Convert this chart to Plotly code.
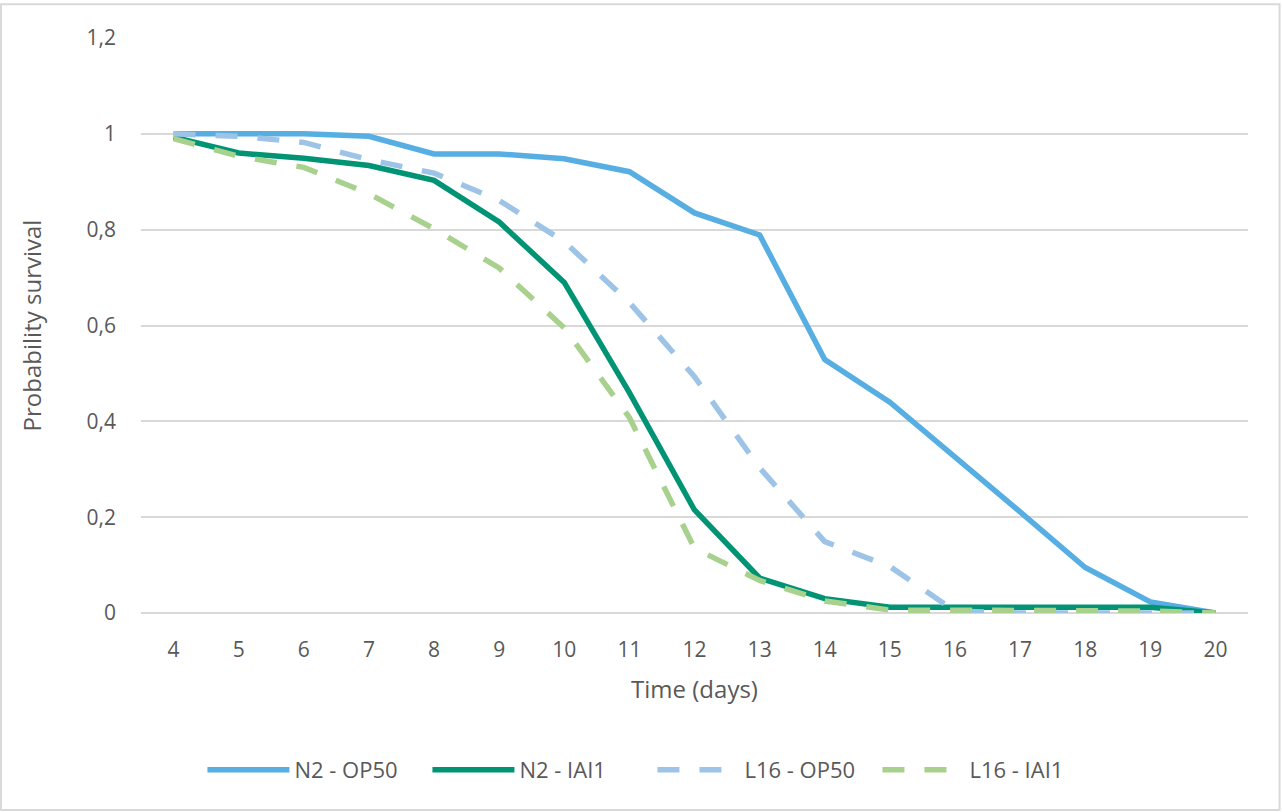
import plotly.graph_objects as go

days = [4, 5, 6, 7, 8, 9, 10, 11, 12, 13, 14, 15, 16, 17, 18, 19, 20]

n2_op50 = [1.0, 1.0, 1.0, 0.995, 0.958, 0.958, 0.948, 0.921, 0.835, 0.789, 0.529, 0.44, 0.327, 0.211, 0.095, 0.023, 0.0]
n2_iai1 = [0.993, 0.96, 0.949, 0.934, 0.903, 0.816, 0.69, 0.46, 0.215, 0.073, 0.03, 0.012, 0.012, 0.012, 0.012, 0.012, 0.0]
l16_op50 = [1.0, 0.995, 0.982, 0.946, 0.918, 0.861, 0.775, 0.648, 0.493, 0.303, 0.149, 0.097, 0.004, 0.0, 0.0, 0.0, 0.0]
l16_iai1 = [0.99, 0.953, 0.93, 0.875, 0.802, 0.72, 0.595, 0.408, 0.135, 0.068, 0.025, 0.006, 0.006, 0.006, 0.004, 0.004, 0.0]

series = [
    ("N2 - OP50", n2_op50, "#56AEE2", "solid"),
    ("N2 - IAI1", n2_iai1, "#009474", "solid"),
    ("L16 - OP50", l16_op50, "#9DC3E6", "22px,20px"),
    ("L16 - IAI1", l16_iai1, "#A9D18E", "22px,20px"),
]

fig = go.Figure()
for name, vals, color, dash in series:
    fig.add_trace(go.Scatter(
        x=days, y=vals, name=name, mode="lines",
        line=dict(color=color, width=5.5, dash=dash),
    ))

font_color = "#595959"
fig.update_layout(
    width=1283, height=812,
    paper_bgcolor="white", plot_bgcolor="white",
    margin=dict(l=141, r=35, t=38, b=199),
    separators=", ",
    font=dict(family="Open Sans, sans-serif", size=21, color=font_color),
    showlegend=True,
    legend=dict(orientation="h", x=0.462, xanchor="center", y=-0.273, yanchor="middle",
                font=dict(size=22, color=font_color), itemwidth=82, tracegroupgap=0,
                entrywidth=128, entrywidthmode="pixels"),
    xaxis=dict(
        range=[3.5, 20.5], tickmode="array", tickvals=days, ticktext=[str(d) for d in days],
        showgrid=False, zeroline=False, showline=False, ticks="", ticklabelstandoff=22,
        title=dict(text="Time (days)", font=dict(size=24, color=font_color), standoff=19),
        tickfont=dict(size=21, color=font_color),
    ),
    yaxis=dict(
        range=[0, 1.2], dtick=0.2, tick0=0,
        showgrid=True, gridcolor="#D9D9D9", gridwidth=1.5,
        zeroline=True, zerolinecolor="#D9D9D9", zerolinewidth=1.5,
        showline=False, ticks="", ticklabelstandoff=24,
        title=dict(text="Probability survival", font=dict(size=24, color=font_color), standoff=38),
        tickfont=dict(size=21, color=font_color),
    ),
)

fig.add_shape(type="rect", xref="paper", yref="paper",
              x0=-0.1265, x1=1.0285, y0=-0.3425, y1=1.0585,
              line=dict(color="#D9D9D9", width=2), fillcolor="rgba(0,0,0,0)", layer="below")

fig.write_html("out.html", config={"displayModeBar": False},
               post_script="document.body.style.margin='0';")
